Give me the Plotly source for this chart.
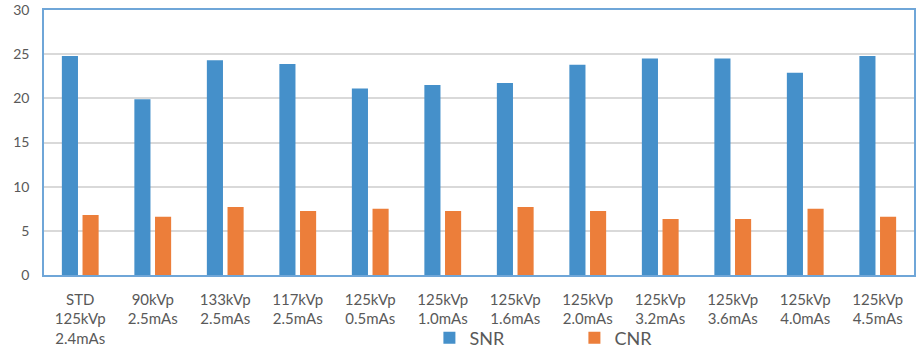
import plotly.graph_objects as go

# Exposure settings (x categories) and measured image-quality metrics
settings = [
    "STD<br>125kVp<br>2.4mAs", "90kVp<br>2.5mAs", "133kVp<br>2.5mAs", "117kVp<br>2.5mAs",
    "125kVp<br>0.5mAs", "125kVp<br>1.0mAs", "125kVp<br>1.6mAs", "125kVp<br>2.0mAs",
    "125kVp<br>3.2mAs", "125kVp<br>3.6mAs", "125kVp<br>4.0mAs", "125kVp<br>4.5mAs",
]
snr = [24.8, 19.9, 24.3, 23.9, 21.1, 21.5, 21.75, 23.8, 24.5, 24.5, 22.9, 24.8]
cnr = [6.8, 6.6, 7.7, 7.25, 7.5, 7.25, 7.7, 7.25, 6.35, 6.35, 7.5, 6.6]
y_ticks = [0, 5, 10, 15, 20, 25, 30]

BLUE = "#4590CA"
ORANGE = "#EC7E3A"
FRAME = "#6FA6D8"
TEXT = "#595959"
FONT = "Lato, Open Sans, sans-serif"

fig = go.Figure()
fig.add_trace(go.Bar(name="SNR", x=settings, y=snr, marker=dict(color=BLUE, line=dict(width=0))))
fig.add_trace(go.Bar(name="CNR", x=settings, y=cnr, marker=dict(color=ORANGE, line=dict(width=0))))

fig.update_layout(
    width=917, height=357,
    margin=dict(l=44, r=1, t=10, b=79),
    paper_bgcolor="white", plot_bgcolor="white",
    barmode="group", bargap=0.43, bargroupgap=0.22,
    font=dict(family=FONT, color=TEXT, size=14),
    legend=dict(
        orientation="h", x=0.443, xanchor="left", y=-0.238, yanchor="middle",
        font=dict(size=18, color=TEXT, family=FONT),
        entrywidth=100, entrywidthmode="pixels",
        bgcolor="rgba(0,0,0,0)",
    ),
    xaxis=dict(
        showline=True, linecolor=FRAME, linewidth=1.5, mirror=True,
        tickfont=dict(size=15, color=TEXT), tickangle=0, showgrid=False,
        ticks="", ticklabelstandoff=10,
    ),
    yaxis=dict(
        range=[0, 30], tickvals=y_ticks, showline=True, linecolor=FRAME, linewidth=1.5,
        mirror=True, gridcolor="#D9D9D9", gridwidth=1.5, zeroline=False,
        tickfont=dict(size=14, color=TEXT), ticks="", ticklabelstandoff=10,
    ),
)

fig.write_html("out.html")
